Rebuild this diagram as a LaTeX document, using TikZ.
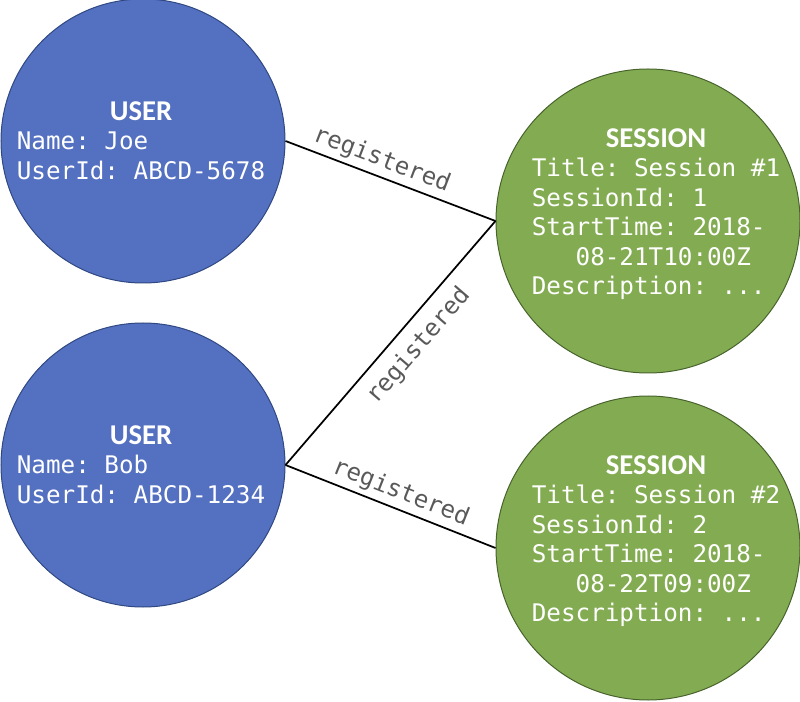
\documentclass[tikz,border=0pt]{standalone}
\usepackage{fontspec}
\setmonofont{DejaVu Sans Mono}
\newfontfamily\hdrfont{Carlito}
\definecolor{userblue}{RGB}{84,112,192}
\definecolor{userline}{RGB}{47,72,130}
\definecolor{sessgreen}{RGB}{131,172,82}
\definecolor{sessline}{RGB}{72,100,44}
\definecolor{lblgray}{RGB}{89,89,89}
\newcommand{\hdr}[1]{\multicolumn{1}{@{}c@{}}{\hdrfont\bfseries\fontsize{21.5}{22.1}\selectfont #1}}

\begin{document}
\begin{tikzpicture}[x=0.75pt,y=-0.75pt,
    user/.style={circle,draw=userline,fill=userblue,minimum size=213pt,inner sep=0pt,line width=0.75pt},
    sess/.style={circle,draw=sessline,fill=sessgreen,minimum size=228pt,inner sep=0pt,line width=0.75pt},
    info/.style={text=white,font=\ttfamily\fontsize{18.2}{22.1}\selectfont,inner sep=0pt},
    rel/.style={draw=black,line width=1.3pt},
    lbl/.style={text=lblgray,font=\ttfamily\fontsize{18}{20}\selectfont,sloped,inner sep=3pt},
    ]
    \useasboundingbox (0,0) rectangle (800,702);
    \node[user] (joe) at (143,141) {};
    \node[user] (bob) at (143,465) {};
    \node[sess] (s1) at (648,221) {};
    \node[sess] (s2) at (648,548) {};
    \node[info] (joet) at (141,144) {\begin{tabular}{@{}l@{}}\hdr{USER}\\Name: Joe\\UserId: ABCD-5678\end{tabular}};
    \node[info] (bobt) at (141,468) {\begin{tabular}{@{}l@{}}\hdr{USER}\\Name: Bob\\UserId: ABCD-1234\end{tabular}};
    \node[info] (s1t) at (656,215) {\begin{tabular}{@{}l@{}}\hdr{SESSION}\\Title: Session \#1\\SessionId: 1\\StartTime: 2018-\\\phantom{000}08-21T10:00Z\\Description: ...\end{tabular}};
    \node[info] (s2t) at (656,542) {\begin{tabular}{@{}l@{}}\hdr{SESSION}\\Title: Session \#2\\SessionId: 2\\StartTime: 2018-\\\phantom{000}08-22T09:00Z\\Description: ...\end{tabular}};
    \draw[rel] (joe.east) -- (s1.west) node[lbl,pos=0.43,above] {registered};
    \draw[rel] (bob.east) -- (s1.west) node[lbl,pos=0.55,below=5pt] {registered};
    \draw[rel] (bob.east) -- (s2.west) node[lbl,pos=0.52,above] {registered};
\end{tikzpicture}
\end{document}
